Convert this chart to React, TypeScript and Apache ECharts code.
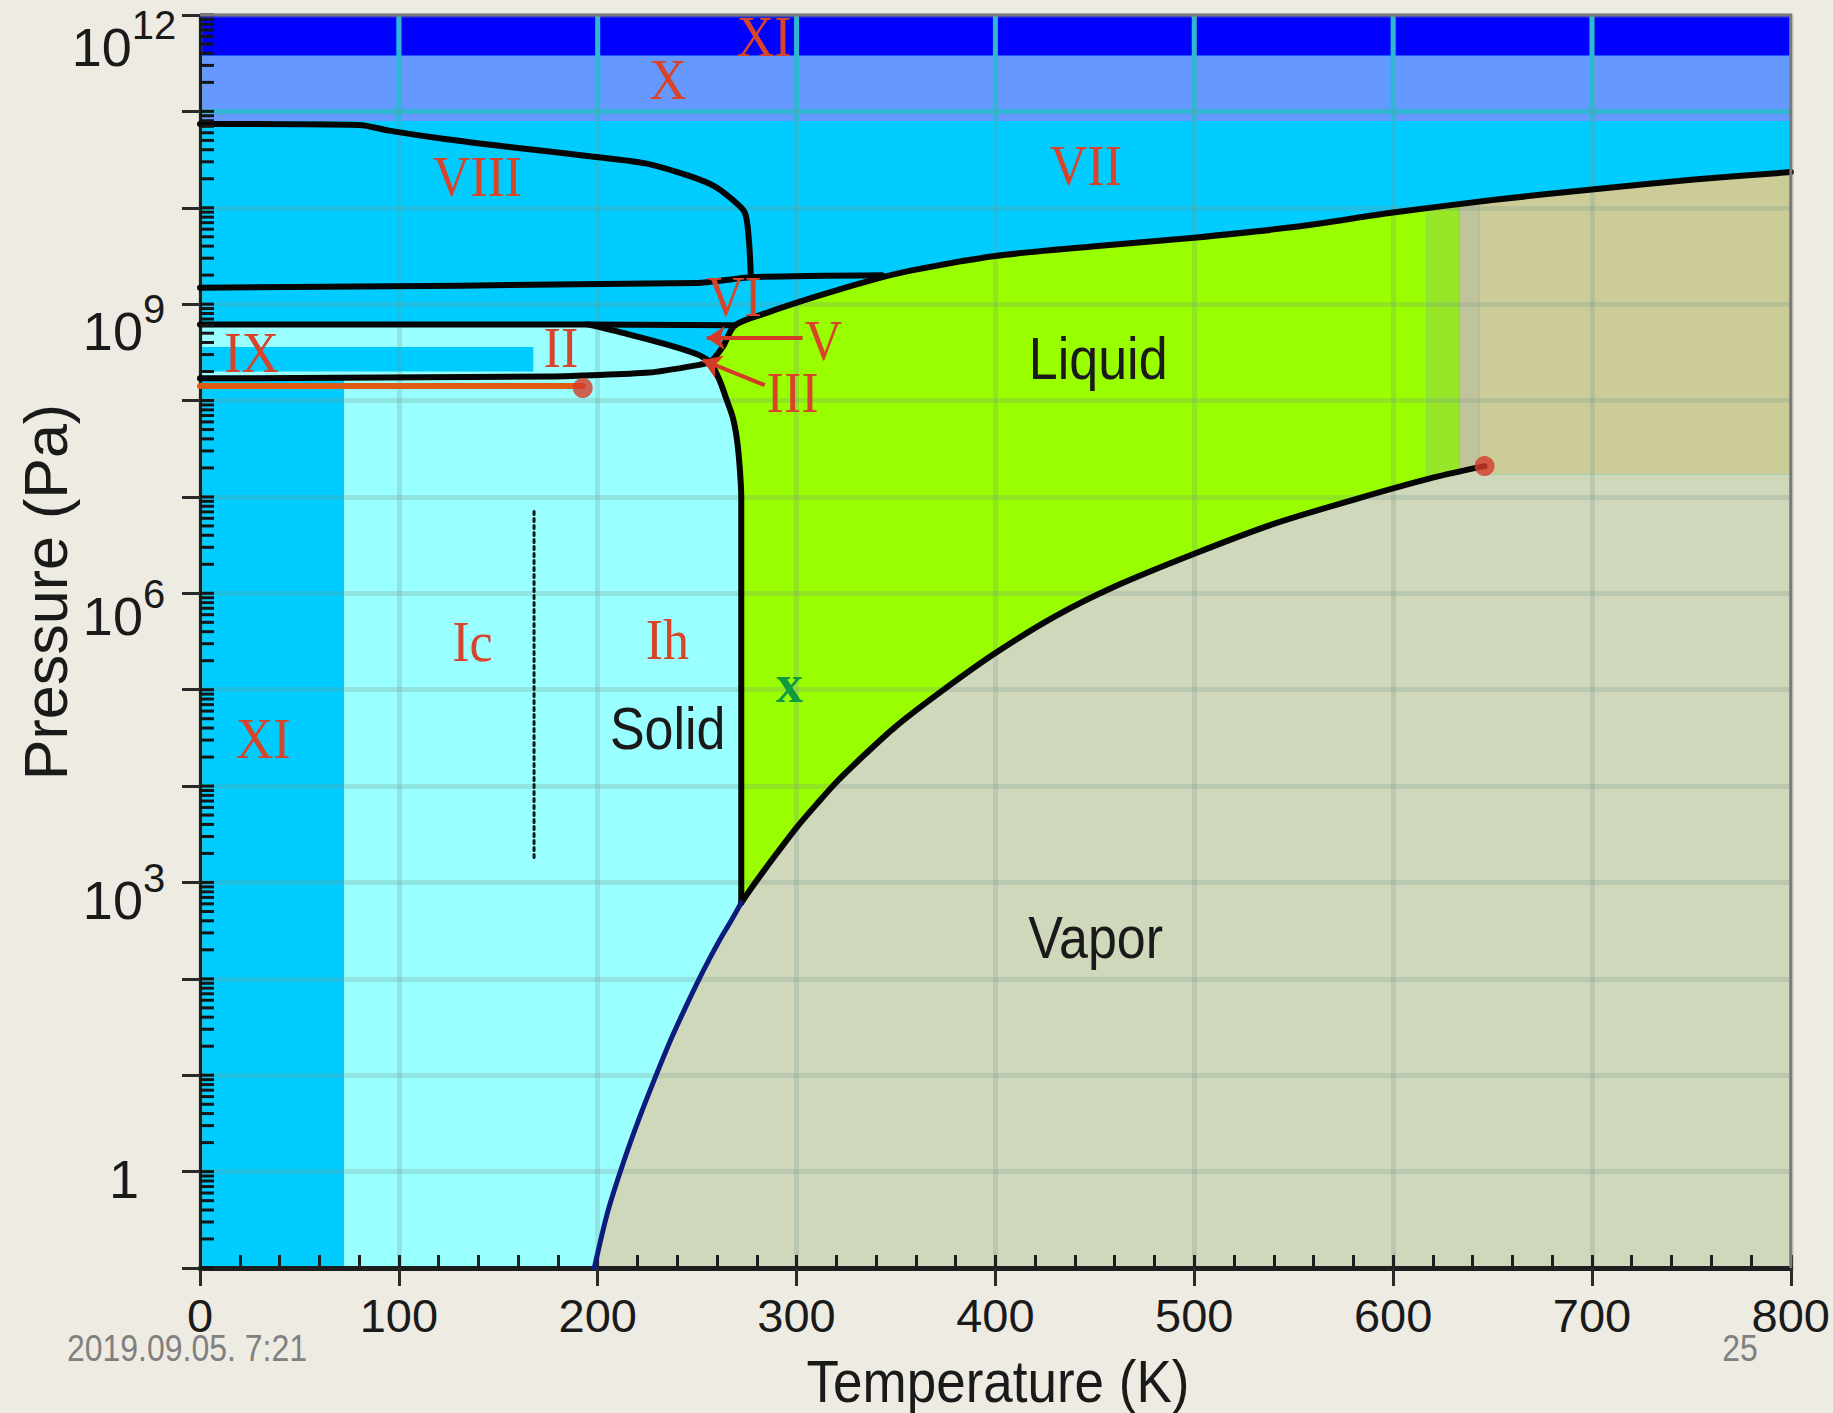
import React, { useEffect, useRef } from "react";
import * as echarts from "echarts";

// ---------- axes ----------
const T_MIN = 0;
const T_MAX = 800;
const T_STEP = 100;
const LOGP_MIN = -1;
const LOGP_MAX = 12;
const pressureLabelExponents = [12, 9, 6, 3, 0];
const minorMultipliers = [1, 2, 3, 4, 5, 6, 7, 8, 9];
const topGridT = [100, 200, 300, 400, 500, 600, 700];
const topGridLogP = [11];

// ---------- phase boundaries (T in K, log10 of P in Pa) ----------
const sublimationT = [198.3, 205, 213, 221, 229, 237, 245, 253, 261, 267, 272.2];
const sublimationLogP = [-1, -0.42, 0.1, 0.56, 0.98, 1.38, 1.74, 2.08, 2.39, 2.6, 2.79];

const vaporizationT = [272.2, 280, 290, 300, 310, 320, 335, 350, 374, 400, 430, 460, 500, 540, 580, 620, 646];
const vaporizationLogP = [2.79, 3.02, 3.3, 3.57, 3.81, 4.04, 4.34, 4.62, 5.0, 5.38, 5.76, 6.07, 6.41, 6.72, 6.97, 7.2, 7.32];

const meltingT = [272.2, 272.2, 271.4, 270, 268, 265, 261.5, 257];
const meltingLogP = [2.79, 7.0, 7.31, 7.6, 7.82, 8.0, 8.2, 8.4];

const liquidVIIT = [257, 263, 269, 285, 310, 336, 358, 400, 450, 500, 550, 600, 650, 700, 750, 800];
const liquidVIILogP = [8.4, 8.56, 8.78, 8.91, 9.08, 9.24, 9.35, 9.5, 9.6, 9.69, 9.8, 9.95, 10.08, 10.19, 10.29, 10.37];

const iceVIIIT = [0, 80, 95, 124, 160, 198, 224, 246, 259, 268, 274, 276, 277];
const iceVIIILogP = [10.87, 10.86, 10.8, 10.71, 10.62, 10.53, 10.46, 10.33, 10.22, 10.08, 9.95, 9.67, 9.3];

const iceVIT = [0, 250, 277, 343];
const iceVILogP = [9.17, 9.22, 9.28, 9.3];

const iceIIUpperT = [0, 195, 269];
const iceIIUpperLogP = [8.79, 8.79, 8.78];

const iceIICurveT = [195, 215, 235, 250, 257];
const iceIICurveLogP = [8.79, 8.69, 8.58, 8.48, 8.4];

const iceIILowerT = [0, 176, 226, 251, 257];
const iceIILowerLogP = [8.23, 8.25, 8.29, 8.37, 8.4];

const iceIXT = [0, 167.6];
const iceIXLogP = [8.3, 8.556];
const iceXILimitT = 72.4;

const orangeT = [0, 192.5];
const orangeLogP = [8.15, 8.15];

const dashT = [168, 168];
const dashLogP = [6.85, 3.22];

const bandXILogP = [11.58, 12];
const bandXLogP = [10.9, 11.58];

const liquidStartT = 257;
const stripeT = [616.6, 633.3, 643.6];
const supercriticalLogP = 7.23;

const dotT = [192.5, 646];
const dotLogP = [8.13, 7.32];

// arrows (from label to point)
const arrowFromT = [303, 284];
const arrowFromLogP = [8.65, 8.16];
const arrowToT = [254.8, 252.8];
const arrowToLogP = [8.65, 8.42];

// ---------- labels ----------
const romanLabels = ["XI", "X", "VIII", "VII", "VI", "V", "III", "II", "IX", "Ic", "Ih", "XI"];
const romanT = [283.7, 235.4, 139.5, 445.5, 268.8, 313.6, 298, 181.5, 26, 137, 235, 31.8];
const romanLogP = [11.77, 11.32, 10.32, 10.43, 9.07, 8.61, 8.07, 8.54, 8.49, 5.49, 5.51, 4.49];

const phaseLabels = ["Liquid", "Solid", "Vapor"];
const phaseT = [451.7, 235.2, 450.4];
const phaseLogP = [8.43, 4.59, 2.42];

const markLabels = ["x"];
const markT = [296.5];
const markLogP = [5.0];

// ---------- styling ----------
const yLabelCenterX = 124;
const yLabelShiftPx = [32, 27, 23, 18, 7];

const C = {
  page: "#EEECE2",
  cyan: "#00CCFF",
  lightCyan: "#99FFFF",
  blue: "#0000FF",
  periwinkle: "#6699FF",
  green: "#99FF00",
  greenStripe: "#97E628",
  grayStripe: "#C0C49C",
  tan: "#CCCC99",
  vapor: "#CFD8BB",
  roman: "#D8442A",
  grid: "rgba(120,150,140,0.25)",
  topGrid: "#1AC0E8",
  ink: "#1a1a1a",
};

const sansFont = '"Liberation Sans", Arial, sans-serif';
const serifFont = '"Liberation Serif", "Times New Roman", serif';

const zip = (xs: number[], ys: number[]) => xs.map((x, i) => [x, ys[i]]);
const rectPts = (x0: number, x1: number, y0: number, y1: number) => [
  [x0, y0],
  [x1, y0],
  [x1, y1],
  [x0, y1],
];

function buildRegions() {
  const regions: { fill: string; pts: number[][] }[] = [];
  regions.push({ fill: C.green, pts: rectPts(liquidStartT, stripeT[0], 2.5, 10.6) });
  regions.push({ fill: C.greenStripe, pts: rectPts(stripeT[0], stripeT[1], 6.5, 10.6) });
  regions.push({ fill: C.grayStripe, pts: rectPts(stripeT[1], stripeT[2], 6.5, 10.6) });
  regions.push({ fill: C.tan, pts: rectPts(stripeT[2], T_MAX, supercriticalLogP, 10.6) });
  const vLast = vaporizationT[vaporizationT.length - 1];
  regions.push({
    fill: C.vapor,
    pts: [
      ...zip(sublimationT, sublimationLogP),
      ...zip(vaporizationT, vaporizationLogP).slice(1),
      [vLast, supercriticalLogP],
      [T_MAX, supercriticalLogP],
      [T_MAX, LOGP_MIN],
    ],
  });
  regions.push({
    fill: C.lightCyan,
    pts: [
      [iceXILimitT, LOGP_MIN],
      [iceXILimitT, iceIILowerLogP[0]],
      ...zip(iceIILowerT, iceIILowerLogP).filter((p) => p[0] > iceXILimitT),
      ...zip(meltingT, meltingLogP).reverse().slice(1),
      ...zip(sublimationT, sublimationLogP).reverse().slice(1),
    ],
  });
  regions.push({
    fill: C.cyan,
    pts: [
      ...zip(liquidVIIT, liquidVIILogP),
      [T_MAX, bandXLogP[0] + 0.05],
      [liquidVIIT[0], bandXLogP[0] + 0.05],
    ],
  });
  regions.push({ fill: C.periwinkle, pts: rectPts(T_MIN, T_MAX, bandXLogP[0], bandXLogP[1]) });
  regions.push({ fill: C.blue, pts: rectPts(T_MIN, T_MAX, bandXILogP[0], bandXILogP[1]) });
  regions.push({
    fill: C.lightCyan,
    pts: [
      ...zip(iceIIUpperT.slice(0, 2), iceIIUpperLogP.slice(0, 2)),
      ...zip(iceIICurveT, iceIICurveLogP).slice(1),
      ...zip(iceIILowerT, iceIILowerLogP).reverse().slice(1),
    ],
  });
  regions.push({ fill: C.cyan, pts: rectPts(iceIXT[0], iceIXT[1], iceIXLogP[0], iceIXLogP[1]) });
  return regions;
}

function lineSeries(xs: number[], ys: number[], color: string, width: number, smooth: number | boolean, type: any = "solid") {
  return {
    type: "line",
    data: zip(xs, ys),
    showSymbol: false,
    symbol: "none",
    smooth,
    z: 5,
    silent: true,
    animation: false,
    lineStyle: { color, width, type, cap: "round", join: "round" },
    emphasis: { disabled: true },
  };
}

function buildOption() {
  const regions = buildRegions();
  const tickValues: number[][] = [];
  for (let d = LOGP_MIN; d < LOGP_MAX; d++) {
    minorMultipliers.forEach((k) => tickValues.push([T_MIN, d + Math.log10(k)]));
  }
  tickValues.push([T_MIN, LOGP_MAX]);

  return {
    animation: false,
    backgroundColor: C.page,
    grid: {
      left: 200,
      top: 15,
      right: 41,
      bottom: 145,
      show: true,
      backgroundColor: C.cyan,
      borderColor: "#808080",
      borderWidth: 2,
    },
    xAxis: [
      {
        type: "value",
        min: T_MIN,
        max: T_MAX,
        interval: T_STEP,
        position: "bottom",
        z: 3,
        axisLine: { show: true, onZero: false, lineStyle: { color: "#1e1e1e", width: 5 } },
        axisTick: { show: true, inside: false, length: 18, lineStyle: { color: "#2a2a2a", width: 3 } },
        axisLabel: { show: true, margin: 24, fontSize: 47, color: C.ink, fontFamily: sansFont },
        splitLine: { show: true, lineStyle: { color: C.grid, width: 5 } },
      },
      {
        type: "value",
        min: T_MIN,
        max: T_MAX,
        interval: T_STEP,
        position: "bottom",
        z: 3,
        axisLine: { show: false, onZero: false },
        axisLabel: { show: false },
        splitLine: { show: false },
        axisTick: { show: true, inside: true, length: 13, lineStyle: { color: "#1e1e1e", width: 3 } },
        minorTick: { show: true, splitNumber: 5, length: 13, lineStyle: { color: "#1e1e1e", width: 3 } },
      },
    ],
    yAxis: [
      {
        type: "value",
        min: LOGP_MIN,
        max: LOGP_MAX,
        interval: 1,
        z: 3,
        axisLine: { show: true, onZero: false, lineStyle: { color: "#1e1e1e", width: 3 } },
        axisTick: { show: true, inside: false, length: 18, lineStyle: { color: "#2a2a2a", width: 3 } },
        axisLabel: { show: false },
        splitLine: { show: true, lineStyle: { color: C.grid, width: 5 } },
      },
    ],
    graphic: [
      {
        type: "text",
        x: 46,
        y: 592,
        rotation: Math.PI / 2,
        style: { text: "Pressure (Pa)", font: `61px ${sansFont}`, fill: C.ink, textAlign: "center", textVerticalAlign: "middle" },
      },
      {
        type: "text",
        x: 998,
        y: 1381,
        scaleY: 1.13,
        style: { text: "Temperature (K)", font: `53px ${sansFont}`, fill: C.ink, textAlign: "center", textVerticalAlign: "middle" },
      },
      {
        type: "text",
        x: 187,
        y: 1348,
        scaleY: 1.15,
        style: { text: "2019.09.05. 7:21", font: `32px ${sansFont}`, fill: "#808080", textAlign: "center", textVerticalAlign: "middle" },
      },
      {
        type: "text",
        x: 1740,
        y: 1348,
        scaleY: 1.15,
        style: { text: "25", font: `32px ${sansFont}`, fill: "#808080", textAlign: "center", textVerticalAlign: "middle" },
      },
    ],
    series: [
      // filled phase regions
      {
        type: "custom",
        coordinateSystem: "cartesian2d",
        z: 1,
        silent: true,
        data: [[T_MIN, LOGP_MIN]],
        renderItem: (params: any, api: any) => ({
          type: "group",
          children: regions.map((r, i) => ({
            type: "polygon",
            z2: i,
            shape: { points: r.pts.map((p) => api.coord(p)) },
            style: { fill: r.fill, stroke: "none" },
          })),
        }),
      },
      // opaque grid lines inside the high-pressure bands
      {
        type: "custom",
        coordinateSystem: "cartesian2d",
        z: 2,
        silent: true,
        data: [[T_MIN, LOGP_MAX]],
        renderItem: (params: any, api: any) => {
          const children: any[] = [];
          topGridT.forEach((t) => {
            const a = api.coord([t, bandXLogP[0]]);
            const b = api.coord([t, LOGP_MAX]);
            children.push({ type: "line", shape: { x1: a[0], y1: a[1], x2: b[0], y2: b[1] }, style: { stroke: C.topGrid, lineWidth: 5 } });
          });
          topGridLogP.forEach((lp) => {
            const a = api.coord([T_MIN, lp]);
            const b = api.coord([T_MAX, lp]);
            children.push({ type: "line", shape: { x1: a[0], y1: a[1], x2: b[0], y2: b[1] }, style: { stroke: C.topGrid, lineWidth: 5 } });
          });
          return { type: "group", children };
        },
      },
      // boundary lines
      lineSeries(iceVIIIT, iceVIIILogP, "#050505", 6, 0.3),
      lineSeries(iceVIT, iceVILogP, "#050505", 6, 0.2),
      lineSeries(iceIIUpperT, iceIIUpperLogP, "#050505", 6, false),
      lineSeries(iceIICurveT, iceIICurveLogP, "#050505", 6, 0.3),
      lineSeries(iceIILowerT, iceIILowerLogP, "#050505", 6, 0.2),
      lineSeries(liquidVIIT, liquidVIILogP, "#050505", 6, 0.3),
      lineSeries(meltingT, meltingLogP, "#050505", 6, 0.3),
      lineSeries(vaporizationT, vaporizationLogP, "#050505", 6, 0.3),
      lineSeries(sublimationT, sublimationLogP, "#0B1C7C", 5, 0.3),
      lineSeries(orangeT, orangeLogP, "#DF5B14", 6, false),
      lineSeries(dashT, dashLogP, "#151515", 3, false, [3, 4]),
      // arrows
      {
        type: "lines",
        coordinateSystem: "cartesian2d",
        z: 6,
        silent: true,
        symbol: ["none", "arrow"],
        symbolSize: 18,
        lineStyle: { color: "#D43A28", width: 4, opacity: 1 },
        data: arrowFromT.map((t, i) => ({
          coords: [
            [t, arrowFromLogP[i]],
            [arrowToT[i], arrowToLogP[i]],
          ],
        })),
      },
      // red points
      {
        type: "scatter",
        z: 6,
        silent: true,
        symbolSize: 20,
        itemStyle: { color: "#D63B2B" },
        data: zip(dotT, dotLogP),
      },
      // inner ticks on the pressure axis (log minor ticks)
      {
        type: "custom",
        coordinateSystem: "cartesian2d",
        z: 6,
        silent: true,
        data: tickValues,
        renderItem: (params: any, api: any) => {
          const p = api.coord([api.value(0), api.value(1)]);
          return {
            type: "line",
            shape: { x1: p[0], y1: p[1], x2: p[0] + 14, y2: p[1] },
            style: { stroke: "#151515", lineWidth: 3 },
          };
        },
      },
      // pressure tick labels (10^n)
      {
        type: "custom",
        coordinateSystem: "cartesian2d",
        z: 6,
        silent: true,
        data: pressureLabelExponents.map((e) => [T_MIN, e]),
        renderItem: (params: any, api: any) => {
          const e = api.value(1);
          const p = api.coord([T_MIN, e]);
          const shift = yLabelShiftPx[params.dataIndex] || 0;
          return {
            type: "text",
            x: yLabelCenterX,
            y: p[1] + shift,
            style: {
              text: e === 0 ? "{b|1}" : `{b|10}{s|${e}}`,
              textAlign: "center",
              textVerticalAlign: "middle",
              rich: {
                b: { fontSize: 54, lineHeight: 84, fontFamily: sansFont, fill: C.ink },
                s: { fontSize: 40, lineHeight: 42, verticalAlign: "top", fontFamily: sansFont, fill: C.ink },
              },
            },
          };
        },
      },
      // frame (top and right)
      {
        type: "custom",
        coordinateSystem: "cartesian2d",
        z: 7,
        silent: true,
        data: [[T_MAX, LOGP_MAX]],
        renderItem: (params: any, api: any) => ({
          type: "polyline",
          shape: { points: [api.coord([T_MIN, LOGP_MAX]), api.coord([T_MAX, LOGP_MAX]), api.coord([T_MAX, LOGP_MIN])] },
          style: { stroke: "#7a7a7a", lineWidth: 3, fill: "none" },
        }),
      },
      // labels
      {
        type: "custom",
        coordinateSystem: "cartesian2d",
        z: 8,
        silent: true,
        data: [[T_MIN, LOGP_MIN]],
        renderItem: (params: any, api: any) => {
          const children: any[] = [];
          romanLabels.forEach((txt, i) => {
            const p = api.coord([romanT[i], romanLogP[i]]);
            children.push({
              type: "text",
              x: p[0],
              y: p[1],
              scaleY: 1.08,
              style: { text: txt, font: `52px ${serifFont}`, fill: C.roman, textAlign: "center", textVerticalAlign: "middle" },
            });
          });
          phaseLabels.forEach((txt, i) => {
            const p = api.coord([phaseT[i], phaseLogP[i]]);
            children.push({
              type: "text",
              x: p[0],
              y: p[1],
              scaleY: 1.13,
              style: { text: txt, font: `52px ${sansFont}`, fill: C.ink, textAlign: "center", textVerticalAlign: "middle" },
            });
          });
          markLabels.forEach((txt, i) => {
            const p = api.coord([markT[i], markLogP[i]]);
            children.push({
              type: "text",
              x: p[0],
              y: p[1] - 6,
              style: { text: txt, font: `bold 54px ${serifFont}`, fill: "#0F9A40", textAlign: "center", textVerticalAlign: "middle" },
            });
          });
          return { type: "group", children };
        },
      },
    ],
  };
}

export default function App() {
  const ref = useRef<HTMLDivElement>(null);
  useEffect(() => {
    if (!ref.current) return;
    const chart = echarts.init(ref.current, null, { renderer: "svg" });
    chart.setOption(buildOption() as any);
    return () => {
      chart.dispose();
    };
  }, []);
  return <div ref={ref} style={{ position: "absolute", left: 0, top: 0, width: 1833, height: 1413 }} />;
}
